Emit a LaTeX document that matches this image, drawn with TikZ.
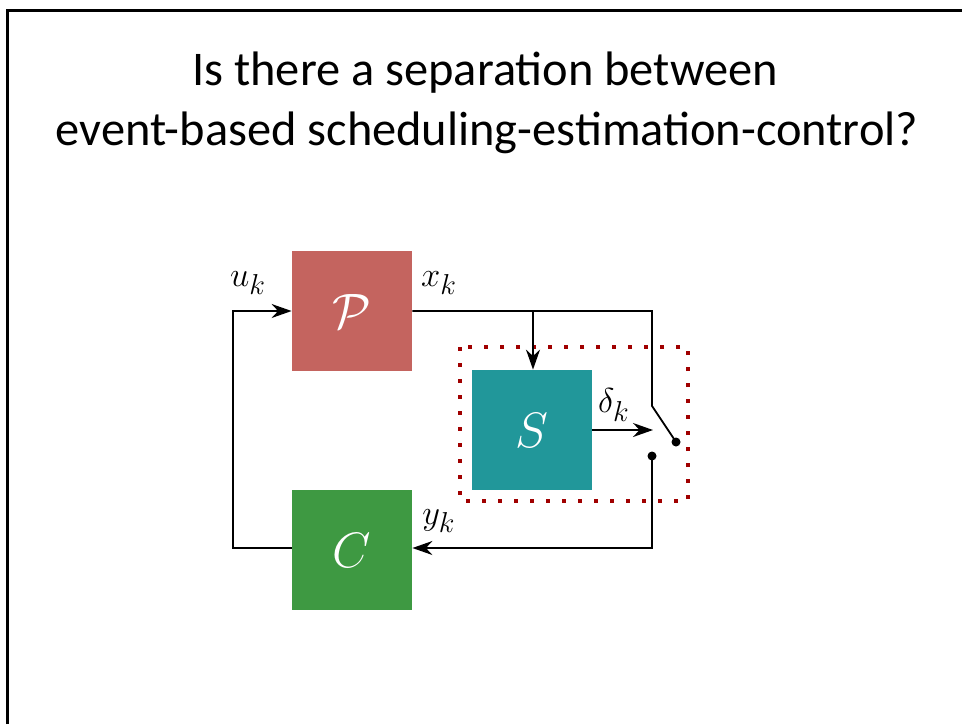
\documentclass[tikz,border=0pt]{standalone}
\usepackage{fontspec}
\setmainfont{Carlito}
\usetikzlibrary{arrows.meta}
\definecolor{plantred}{HTML}{C4645F}
\definecolor{schedteal}{HTML}{21979A}
\definecolor{ctrlgreen}{HTML}{3E9942}
\definecolor{dotred}{HTML}{A00000}
\tikzset{
  block/.style={minimum width=60pt, minimum height=60pt, inner sep=0pt, text=white, font=\fontsize{30}{36}\selectfont},
  wire/.style={line width=0.9pt},
  arrowwire/.style={wire, -{Stealth[length=10pt, width=7pt]}},
  sig/.style={font=\fontsize{19}{22}\selectfont},
  title/.style={font=\fontsize{24.2}{29}\selectfont},
  contact/.style={circle, fill=black, inner sep=0pt, minimum size=4.5pt},
}
\begin{document}
\begin{tikzpicture}[x=0.5pt, y=-0.5pt]
\useasboundingbox (0,0) rectangle (962,724);
% slide frame
\draw[line width=1.5pt] (7,724) -- (7,10) -- (962,10);
% title
\node[title] (t1) at (485,73) {Is there a separation between};
\node[title] (t2) at (487,133) {event-based scheduling-estimation-control?};
% event trigger boundary
\draw[dotred, line width=2pt, dash pattern=on 2pt off 6pt] (460,347) rectangle (688,501);
% blocks
\node[block, fill=plantred] (P) at (352,311) {$\mathcal{P}$};
\node[block, fill=schedteal] (S) at (532,430) {$S$};
\node[block, fill=ctrlgreen] (C) at (352,550) {$C$};
% switch
\coordinate (pivot) at (652,406);
\node[contact] (open) at (676,442) {};
\node[contact] (close) at (652,456) {};
\coordinate (tr) at (652,311);
\coordinate (br) at (652,548);
\coordinate (bl) at (233,548);
\coordinate (tl) at (233,311);
\coordinate (tap) at (533,311);
% plant output to switch
\draw[wire] (P.east |- tr) -- (tr) -- (pivot) -- (open.center);
\draw[arrowwire] (tap) -- (S.north -| tap);
\draw[arrowwire] (S.east) -- (653,430);
% switch output to controller
\draw[arrowwire] (close.center) -- (br) -- (C.east |- br);
% control input
\draw[arrowwire] (C.west |- bl) -- (bl) -- (tl) -- (P.west |- tl);
% signal labels
\node[sig] (u) at (248,283) {$u_k$};
\node[sig] (x) at (439,283) {$x_k$};
\node[sig] (d) at (614,405) {$\delta_k$};
\node[sig] (y) at (439,521) {$y_k$};
\end{tikzpicture}
\end{document}
